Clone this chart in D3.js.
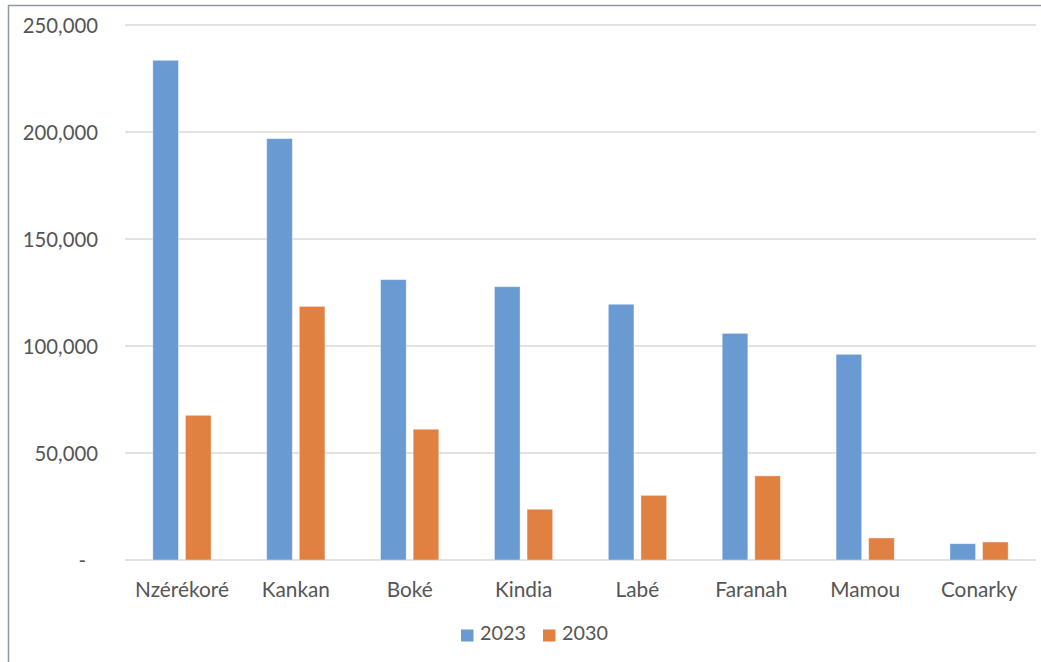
<!DOCTYPE html>
<html>
<head>
<meta charset="utf-8">
<script src="https://cdn.jsdelivr.net/npm/d3@7"></script>
<style>
  html, body { margin: 0; padding: 0; background: #ffffff; }
  svg { display: block; }
  text { font-family: Lato, "Open Sans", sans-serif; fill: #555555; }
</style>
</head>
<body>
<svg id="chart" width="1041" height="662"></svg>
<script>
// Regions and yearly figures
const categories = ["Nzérékoré", "Kankan", "Boké", "Kindia", "Labé", "Faranah", "Mamou", "Conarky"];
const seriesNames = ["2023", "2030"];
const values2023 = [233500, 196900, 131000, 127700, 119500, 105900, 96100, 7600];
const values2030 = [67600, 118500, 61100, 23700, 30200, 39300, 10300, 8400];
const yTicks = [0, 50000, 100000, 150000, 200000, 250000];
const seriesColors = ["#699bd2", "#e08142"];

const seriesValues = [values2023, values2030];

const svg = d3.select("#chart");
const W = 1041, H = 662;
const plot = { left: 125, right: 1036, top: 25, bottom: 560 };

// Outer frame (top and left edges)
svg.append("path")
  .attr("d", `M8.5,${H} V5.5 H${W}`)
  .attr("fill", "none")
  .attr("stroke", "#8f99a6")
  .attr("stroke-width", 1.5);

const x = d3.scaleBand().domain(categories).range([plot.left, plot.right]);
const y = d3.scaleLinear().domain([0, 250000]).range([plot.bottom, plot.top]);

// Horizontal gridlines
svg.append("g")
  .selectAll("line")
  .data(yTicks)
  .join("line")
  .attr("x1", plot.left)
  .attr("x2", plot.right)
  .attr("y1", d => y(d))
  .attr("y2", d => y(d))
  .attr("stroke", "#d9d9d9")
  .attr("stroke-width", 1.5);

// Y axis labels
const yAxis = d3.axisLeft(y)
  .tickValues(yTicks)
  .tickSize(0)
  .tickPadding(0)
  .tickFormat(d => d === 0 ? "-" : d3.format(",")(d));

const yg = svg.append("g")
  .attr("transform", "translate(98,0)")
  .call(yAxis);
yg.select(".domain").remove();
yg.selectAll("text")
  .attr("font-size", 20.3)
  .attr("font-family", "Lato, sans-serif")
  .attr("fill", "#555555")
  .attr("dy", "0.35em")
  .attr("dx", d => d === 0 ? -12 : 0);

// Bars: each region holds a pair of bars
const barW = 25.6, barGap = 7;
const groupW = barW * 2 + barGap;
const sub = d3.scaleOrdinal().domain([0, 1]).range([0, barW + barGap]);

const groups = svg.append("g")
  .selectAll("g")
  .data(categories)
  .join("g")
  .attr("transform", c => `translate(${x(c) + (x.bandwidth() - groupW) / 2},0)`);

groups.selectAll("rect")
  .data((c, i) => seriesValues.map((vals, s) => ({ s, v: vals[i] })))
  .join("rect")
  .attr("x", d => sub(d.s))
  .attr("y", d => y(d.v))
  .attr("width", barW)
  .attr("height", d => y(0) - y(d.v))
  .attr("fill", d => seriesColors[d.s])
  .attr("stroke", "#ffffff")
  .attr("stroke-opacity", 0.45)
  .attr("stroke-width", 0.8);

// Category axis labels
const xAxis = d3.axisBottom(x).tickSize(0).tickPadding(0);
const xg = svg.append("g")
  .attr("transform", `translate(0,${plot.bottom})`)
  .call(xAxis);
xg.select(".domain").remove();
xg.selectAll("text")
  .attr("font-size", 20.8)
  .attr("font-family", "Lato, sans-serif")
  .attr("fill", "#555555")
  .attr("y", 30)
  .attr("dy", "0.35em");

// Legend
const legendItems = [
  { name: seriesNames[0], color: seriesColors[0], x: 461 },
  { name: seriesNames[1], color: seriesColors[1], x: 543 }
];
const lg = svg.append("g");
legendItems.forEach(item => {
  lg.append("rect")
    .attr("x", item.x)
    .attr("y", 629.5)
    .attr("width", 12.5)
    .attr("height", 12)
    .attr("fill", item.color);
  lg.append("text")
    .attr("x", item.x + 19)
    .attr("y", 633)
    .attr("dy", "0.35em")
    .attr("font-size", 19.8)
    .text(item.name);
});
</script>
</body>
</html>
